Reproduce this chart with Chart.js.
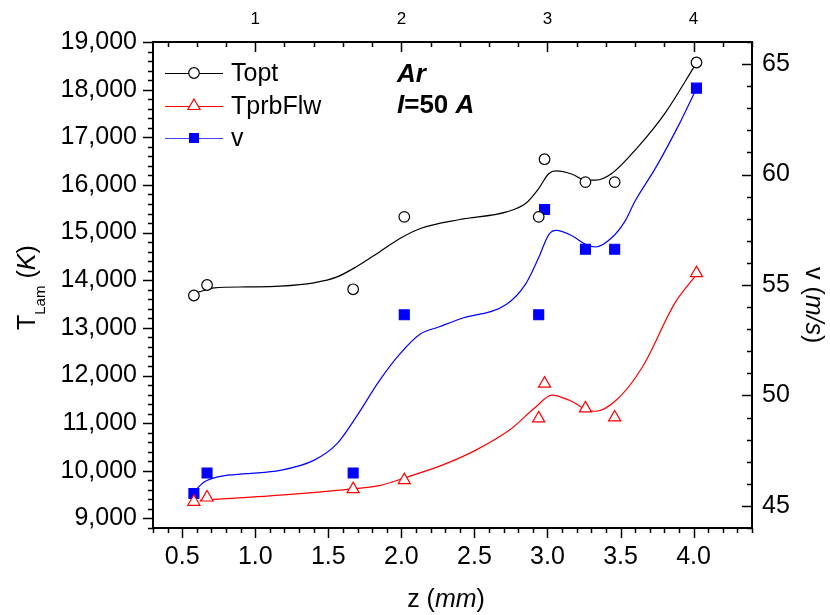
<!DOCTYPE html>
<html>
<head>
<meta charset="utf-8">
<script src="https://cdn.jsdelivr.net/npm/chart.js@4.4.1/dist/chart.umd.min.js"></script>
<style>
html, body { margin: 0; padding: 0; background: #fff; }
</style>
</head>
<body>
<canvas id="chart" width="830" height="615"></canvas>
<script>
// measured points (z in mm), shared by the three series
const zPoints = [0.58, 0.67, 1.67, 2.02, 2.94, 2.98, 3.26, 3.46, 4.02];
const tOpt = [13680, 13900, 13810, 15330, 15330, 16540, 16060, 16060, 18570];
const tPrbFlw = [9350, 9440, 9615, 9805, 11100, 11830, 11310, 11120, 14150];
const vel = [45.56, 46.49, 46.49, 53.65, 53.65, 58.42, 56.62, 56.62, 63.91];

// smooth fit curves
const zFitOpt = [0.61, 0.72, 0.94, 1.17, 1.40, 1.56, 1.69, 1.85, 1.99, 2.13, 2.40, 2.72, 2.85, 2.94, 3.01, 3.06, 3.17, 3.26, 3.33, 3.44, 3.62, 3.81, 4.01];
const tFitOpt = [13750, 13840, 13860, 13875, 13945, 14070, 14280, 14595, 14875, 15085, 15275, 15435, 15610, 15925, 16240, 16295, 16225, 16100, 16100, 16240, 16800, 17530, 18510];

const zFitPrb = [0.62, 1.17, 1.63, 1.85, 2.07, 2.28, 2.51, 2.74, 2.92, 3.03, 3.15, 3.28, 3.33, 3.47, 3.65, 3.87, 4.01];
const tFitPrb = [9380, 9490, 9610, 9690, 9900, 10120, 10435, 10855, 11340, 11590, 11480, 11270, 11250, 11480, 12180, 13510, 14080];

const zFitVel = [0.58, 0.65, 0.76, 0.94, 1.17, 1.40, 1.56, 1.69, 1.85, 1.99, 2.13, 2.26, 2.40, 2.72, 2.85, 2.94, 3.01, 3.06, 3.17, 3.26, 3.33, 3.44, 3.53, 3.60, 3.74, 3.90, 4.01];
const vFitVel = [45.63, 46.08, 46.34, 46.46, 46.61, 47.06, 47.82, 49.02, 50.67, 51.88, 52.78, 53.11, 53.46, 54.13, 55.04, 56.24, 57.29, 57.47, 57.22, 56.84, 56.72, 57.14, 57.88, 58.80, 60.30, 62.26, 63.76];

// axis ticks
const xTicks = [0.5, 1.0, 1.5, 2.0, 2.5, 3.0, 3.5, 4.0];
const topTicks = [1, 2, 3, 4];
const leftTicks = [9000, 10000, 11000, 12000, 13000, 14000, 15000, 16000, 17000, 18000, 19000];
const rightTicks = [45, 50, 55, 60, 65];

const legendNames = ['Topt', 'TprbFlw', 'v'];

const FONT = '"Liberation Sans", Arial, sans-serif';
Chart.defaults.color = '#000';
Chart.defaults.font.family = FONT;

function pairs(xs, ys) {
    return xs.map((x, i) => ({ x: x, y: ys[i] }));
}

function markerSet(label, ys, axis, style, color, fill, radius) {
    return {
        label: label,
        data: pairs(zPoints, ys),
        yAxisID: axis,
        showLine: false,
        pointStyle: style,
        pointRadius: radius,
        pointBorderWidth: 1.2,
        pointBorderColor: color,
        pointBackgroundColor: fill,
        order: 0
    };
}

function curveSet(xs, ys, axis, color) {
    return {
        data: pairs(xs, ys),
        yAxisID: axis,
        showLine: true,
        borderColor: color,
        borderWidth: 1.2,
        pointRadius: 0,
        cubicInterpolationMode: 'monotone',
        order: 1
    };
}

function setTicks(values) {
    return scale => { scale.ticks = values.map(v => ({ value: v })); };
}

// tick marks: major and minor, drawn against the library scales
function tickRun(ctx, scale, from, to, step, majorEvery, side, inward) {
    const area = scale.chart.chartArea;
    ctx.save();
    ctx.strokeStyle = '#000';
    ctx.lineWidth = 1.5;
    const n = Math.round((to - from) / step);
    for (let i = 0; i <= n; i++) {
        const v = from + i * step;
        const major = Math.abs(v / majorEvery - Math.round(v / majorEvery)) < 1e-6;
        const len = major ? 10 : 5;
        const p = Math.round(scale.getPixelForValue(v)) + 0.5;
        ctx.beginPath();
        if (side === 'bottom') { ctx.moveTo(p, area.bottom); ctx.lineTo(p, area.bottom + len); }
        if (side === 'top') { ctx.moveTo(p, area.top); ctx.lineTo(p, area.top + len); }
        if (side === 'left') { ctx.moveTo(area.left, p); ctx.lineTo(area.left - len, p); }
        if (side === 'right') { ctx.moveTo(area.right, p); ctx.lineTo(area.right - len, p); }
        ctx.stroke();
    }
    ctx.restore();
}

function drawRun(ctx, parts, x, y) {
    // parts: [text, font, dy]
    parts.forEach(p => {
        ctx.font = p[1];
        ctx.fillText(p[0], x, y + (p[2] || 0));
        x += ctx.measureText(p[0]).width;
    });
}

function runWidth(ctx, parts) {
    let w = 0;
    parts.forEach(p => { ctx.font = p[1]; w += ctx.measureText(p[0]).width; });
    return w;
}

function drawMarker(ctx, kind, x, y) {
    ctx.save();
    ctx.lineWidth = 1.2;
    if (kind === 0) {
        ctx.strokeStyle = '#000'; ctx.fillStyle = '#fff';
        ctx.beginPath(); ctx.arc(x, y, 5.3, 0, Math.PI * 2); ctx.fill(); ctx.stroke();
    } else if (kind === 1) {
        ctx.strokeStyle = '#ff0000'; ctx.fillStyle = '#fff';
        ctx.beginPath();
        ctx.moveTo(x, y - 7); ctx.lineTo(x + 6.1, y + 3.5); ctx.lineTo(x - 6.1, y + 3.5);
        ctx.closePath(); ctx.fill(); ctx.stroke();
    } else {
        ctx.fillStyle = '#0000ff';
        ctx.fillRect(x - 5, y - 5, 10, 10);
    }
    ctx.restore();
}

const decorPlugin = {
    id: 'decor',
    afterDraw(chart) {
        const ctx = chart.ctx;
        const s = chart.scales;
        tickRun(ctx, s.x, 0.3, 4.4, 0.1, 0.5, 'bottom');
        tickRun(ctx, s.x2, 0.4, 4.4, 0.2, 1, 'top');
        tickRun(ctx, s.y, 8800, 19000, 200, 1000, 'left');
        tickRun(ctx, s.y2, 44, 66, 1, 5, 'right');

        ctx.save();
        ctx.fillStyle = '#000';
        ctx.textBaseline = 'alphabetic';

        // bottom title
        const xt = [['z (', '25px ' + FONT], ['mm', 'italic 25px ' + FONT], [')', '25px ' + FONT]];
        drawRun(ctx, xt, 446 - runWidth(ctx, xt) / 2, 607);

        // left title
        ctx.save();
        ctx.translate(35, 330);
        ctx.rotate(-Math.PI / 2);
        drawRun(ctx, [['T', '25px ' + FONT], ['Lam', '15px ' + FONT, 10], [' (', '25px ' + FONT], ['K', 'italic 25px ' + FONT], [')', '25px ' + FONT]], 0, 0);
        ctx.restore();

        // right title
        ctx.save();
        ctx.translate(806, 267);
        ctx.rotate(Math.PI / 2);
        drawRun(ctx, [['v (', '25px ' + FONT], ['m/s', 'italic 25px ' + FONT], [')', '25px ' + FONT]], 0, 0);
        ctx.restore();

        // gas and current
        drawRun(ctx, [['Ar', 'bold italic 26px ' + FONT]], 397, 82);
        drawRun(ctx, [['I', 'bold italic 26px ' + FONT], ['=50 ', 'bold 26px ' + FONT], ['A', 'bold italic 26px ' + FONT]], 397, 113);

        // legend
        const colors = ['#000', '#ff0000', '#4040ff'];
        const rows = [73, 106, 138];
        legendNames.forEach((name, i) => {
            ctx.strokeStyle = colors[i];
            ctx.lineWidth = 1.2;
            ctx.beginPath();
            ctx.moveTo(165, rows[i] + 0.5); ctx.lineTo(223, rows[i] + 0.5);
            ctx.stroke();
            drawMarker(ctx, i, 194, rows[i]);
            ctx.fillStyle = '#000';
            ctx.font = '25px ' + FONT;
            ctx.textBaseline = 'middle';
            ctx.fillText(name, 231, rows[i] + 1);
            ctx.textBaseline = 'alphabetic';
        });
        ctx.restore();
    }
};

const axisBorder = { display: true, color: '#000', width: 2 };
const tickFont = { size: 25, family: FONT };

new Chart(document.getElementById('chart'), {
    type: 'scatter',
    data: {
        datasets: [
            markerSet('Topt', tOpt, 'y', 'circle', '#000', '#fff', 5.3),
            markerSet('TprbFlw', tPrbFlw, 'y', 'triangle', '#ff0000', '#fff', 7),
            markerSet('v', vel, 'y2', 'rect', '#0000ff', '#0000ff', 7),
            curveSet(zFitOpt, tFitOpt, 'y', '#000'),
            curveSet(zFitPrb, tFitPrb, 'y', '#ff0000'),
            curveSet(zFitVel, vFitVel, 'y2', '#0000ff')
        ]
    },
    options: {
        responsive: false,
        animation: false,
        layout: { padding: 0 },
        plugins: {
            legend: { display: false },
            tooltip: { enabled: false }
        },
        scales: {
            x: {
                type: 'linear', position: 'bottom', min: 0.3, max: 4.4,
                grid: { display: false, drawTicks: false },
                border: axisBorder,
                afterBuildTicks: setTicks(xTicks),
                afterFit: s => { s.height = 87; },
                ticks: { font: tickFont, padding: 14, maxRotation: 0, callback: v => v.toFixed(1) }
            },
            x2: {
                type: 'linear', position: 'top', min: 0.3, max: 4.4,
                grid: { display: false, drawTicks: false },
                border: axisBorder,
                afterBuildTicks: setTicks(topTicks),
                afterFit: s => { s.height = 42; },
                ticks: { font: { size: 17, family: FONT }, padding: 12, maxRotation: 0, callback: v => String(v) }
            },
            y: {
                type: 'linear', position: 'left', min: 8800, max: 19000,
                grid: { display: false, drawTicks: false },
                border: axisBorder,
                afterBuildTicks: setTicks(leftTicks),
                afterFit: s => { s.width = 153; },
                ticks: { font: tickFont, padding: 16, callback: v => v.toLocaleString('en-US') }
            },
            y2: {
                type: 'linear', position: 'right', min: 44, max: 66,
                grid: { display: false, drawTicks: false },
                border: axisBorder,
                afterBuildTicks: setTicks(rightTicks),
                afterFit: s => { s.width = 78; },
                ticks: { font: tickFont, padding: 10, callback: v => String(v) }
            }
        }
    },
    plugins: [decorPlugin]
});
</script>
</body>
</html>
